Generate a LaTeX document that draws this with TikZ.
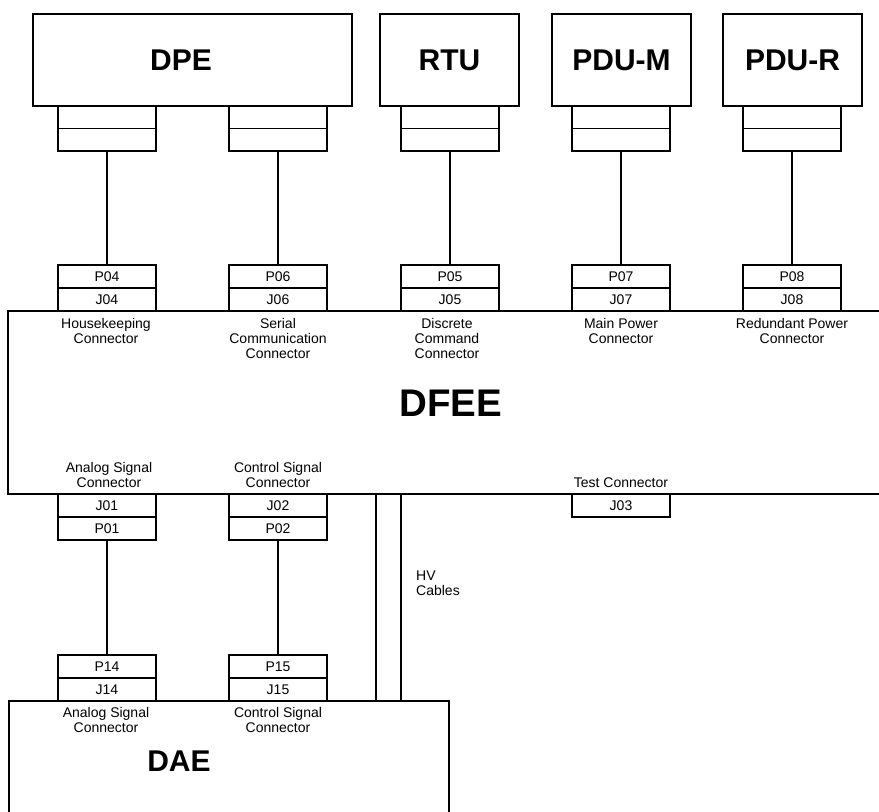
\documentclass[tikz,border=0pt]{standalone}
\usepackage{fontspec}
\setmainfont{Liberation Sans}
\begin{document}
\begin{tikzpicture}[x=1pt,y=-1pt,
  wire/.style={line width=1.8pt},
  unit/.style={draw, line width=1.8pt, rectangle, inner sep=0pt,
    minimum width=139pt, minimum height=92pt,
    font=\bfseries\fontsize{30}{36}\selectfont},
  plug/.style={draw, line width=1.8pt, rectangle, inner sep=0pt,
    minimum width=98pt, minimum height=23pt,
    font=\fontsize{14}{15}\selectfont},
  socket/.style={plug, minimum height=22.5pt},
  note/.style={inner sep=0pt, align=center, anchor=north,
    font=\fontsize{14}{15}\selectfont},
  bigname/.style={inner sep=0pt, font=\bfseries\fontsize{30}{36}\selectfont}]
\clip (0,0) rectangle (879,812);

% upper units
\node[unit, minimum width=319pt] (dpe) at (192.5,60) {};
\node[bigname] (dpetext) at (181,60) {DPE};
\node[unit] (rtu) at (449.5,60) {RTU};
\node[unit] (pdum) at (621.5,60) {PDU-M};
\node[unit] (pdur) at (792.5,60) {PDU-R};

% DFEE housing, open to the right
\node[draw, line width=1.8pt, inner sep=0pt, minimum width=882pt,
  minimum height=183pt] (dfee) at (449,402.5) {};
\node[bigname, font=\bfseries\fontsize{38.5}{44}\selectfont] (dfeetext) at (451,403) {DFEE};

% cable sockets on the units, plugs and jacks on the DFEE top side
\foreach \n/\x/\p/\j in {hk/107/P04/J04, sc/278/P06/J06, dc/450/P05/J05,
                         mp/621/P07/J07, rp/792/P08/J08} {
  \node[socket] (\n a) at (\x,117.25) {};
  \node[socket] (\n b) at (\x,139.75) {};
  \node[plug] (\n p) at (\x,276.5) {\p};
  \node[plug] (\n j) at (\x,299.5) {\j};
  \draw[wire] (\n b.south) -- (\n p.north);
}

\node[note] (hklabel) at (106,318) {Housekeeping\\Connector};
\node[note] (sclabel) at (278,318) {Serial\\Communication\\Connector};
\node[note] (dclabel) at (447,318) {Discrete\\Command\\Connector};
\node[note] (mplabel) at (621,318) {Main Power\\Connector};
\node[note] (rplabel) at (792,318) {Redundant Power\\Connector};

% DFEE lower side
\node[note] (j01label) at (109,462) {Analog Signal\\Connector};
\node[note] (j02label) at (278,462) {Control Signal\\Connector};
\node[note] (j03label) at (621,478) {Test Connector};

\node[plug] (j01) at (107,505.5) {J01};
\node[plug] (p01) at (107,528.5) {P01};
\node[plug] (j02) at (278,505.5) {J02};
\node[plug] (p02) at (278,528.5) {P02};
\node[plug] (j03) at (621,505.5) {J03};

% DAE
\node[draw, line width=1.8pt, inner sep=0pt, minimum width=440pt,
  minimum height=129pt] (dae) at (229,765.5) {};
\node[bigname] (daetext) at (179,761) {DAE};

\node[plug] (p14) at (107,666.5) {P14};
\node[plug] (j14) at (107,689.5) {J14};
\node[plug] (p15) at (278,666.5) {P15};
\node[plug] (j15) at (278,689.5) {J15};

\node[note] (j14label) at (106,707) {Analog Signal\\Connector};
\node[note] (j15label) at (278,707) {Control Signal\\Connector};

\draw[wire] (p01.south) -- (p14.north);
\draw[wire] (p02.south) -- (p15.north);

% high-voltage cables
\coordinate (hva) at (376,600);
\coordinate (hvb) at (401,600);
\draw[wire] (hva |- dfee.south) -- (hva |- dae.north);
\draw[wire] (hvb |- dfee.south) -- (hvb |- dae.north);
\node[note, anchor=north west, align=left] (hvlabel) at (416,571) {HV\\Cables};
\end{tikzpicture}
\end{document}
